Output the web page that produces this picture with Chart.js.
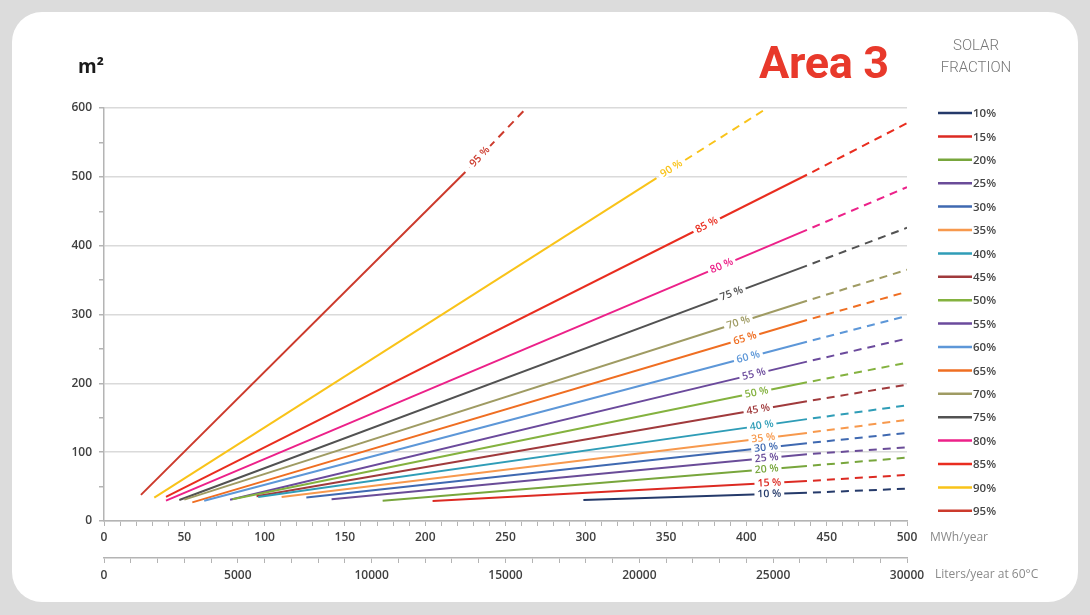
<!DOCTYPE html>
<html lang="en">
<head>
  <meta charset="UTF-8" />
  <title>Area 3 - Solar fraction</title>
  <script src="https://cdn.jsdelivr.net/npm/chart.js"></script>
  <style>
    html, body { margin: 0; padding: 0; }
    body { width: 1090px; height: 615px; background: #dcdcdc; position: relative; overflow: hidden; font-family: 'Open Sans', sans-serif; }
    #card { position: absolute; left: 12px; top: 12px; width: 1066px; height: 590px; background: #fff; border-radius: 30px; }
    #chartBox { position: absolute; left: 0; top: 0; }
    #unit { position: absolute; left: 78px; top: 53px; font: bold 19px 'Open Sans', sans-serif; color: #1a1a1a; }
    #title { position: absolute; left: 759px; top: 36px; font: bold 45px Roboto, sans-serif; color: #e8392b; letter-spacing: -0.3px; }
    #solar { position: absolute; left: 925px; top: 34px; width: 102px; text-align: center; font: 300 15px Roboto, sans-serif; line-height: 22px; color: #777; }
  </style>
</head>
<body>
  <div id="card"></div>
  <canvas id="chartBox" width="1090" height="615"></canvas>
  <div id="unit">m²</div>
  <div id="title">Area 3</div>
  <div id="solar">SOLAR<br>FRACTION</div>

  <script>
    // Solar fraction curves: collector area (m2) vs. demand (MWh/year)
    const fractions = ['10%', '15%', '20%', '25%', '30%', '35%', '40%', '45%', '50%',
                       '55%', '60%', '65%', '70%', '75%', '80%', '85%', '90%', '95%'];
    const lineColors = ['#253a6a', '#dc2a22', '#78a63c', '#6a4c98', '#3f69b1', '#f7994d',
                        '#2f9db7', '#a03a3c', '#84b23f', '#6b4a9c', '#5d97d8', '#ef6e22',
                        '#9f9b63', '#525252', '#ec2189', '#e92d1f', '#f9c319', '#cc3a2c'];

    // start of each curve
    const startMWh = [298.5, 204.6, 173.5, 141.7, 126, 110.6, 96, 95, 80, 78.5, 62.4, 55, 50, 46.9, 38.6, 38.6, 31.3, 23];
    const startM2  = [30.5, 29, 29.5, 31.5, 34, 35, 35, 36, 31.5, 31, 29.5, 27, 31, 30.5, 29.5, 35, 34, 38];
    // end of the solid part
    const solidMWh = [437.7, 437.7, 437.7, 437.7, 437.7, 437.7, 437.7, 437.7, 437.7, 437.7, 437.7, 437.7, 437.7, 437.7, 437.7, 437.7, 344, 225];
    const solidM2  = [41, 58, 80, 97, 113, 128, 148, 174, 201.5, 231.5, 260.5, 292, 320, 371, 423, 503, 498, 507];
    // end of the dashed extrapolation
    const endMWh = [500, 500, 500, 500, 500, 500, 500, 500, 500, 500, 500, 500, 500, 500, 500, 500, 413, 263];
    const endM2  = [47, 67, 92, 107, 128, 147, 168, 198, 230, 265, 298, 333, 365, 426, 485, 578, 600, 600];
    // where the "xx %" tag sits on each curve
    const labelMWh = [414.3, 414.3, 412.6, 412.6, 412.2, 410.5, 409.5, 407.4, 406.4, 404.7, 401.2, 399.1, 395, 390.8, 384.6, 375.3, 353.4, 234];

    const mwhTicks = [0, 50, 100, 150, 200, 250, 300, 350, 400, 450, 500];
    const literTicks = [0, 5000, 10000, 15000, 20000, 25000, 30000];
    const m2Ticks = [0, 100, 200, 300, 400, 500, 600];

    const tickFont = { family: 'Open Sans', size: 12, weight: '600' };
    const axisGray = '#b4b4b4';

    const overlay = {
      id: 'overlay',
      afterDatasetsDraw(chart) {
        const { ctx } = chart;
        const x = chart.scales.x, y = chart.scales.y;
        chart.data.datasets.forEach((ds, i) => {
          const p = ds.data;
          const lx = labelMWh[i];
          const s = lx <= p[1].x ? 0 : 1;
          const a = p[s], b = p[s + 1];
          const ly = a.y + (b.y - a.y) * (lx - a.x) / (b.x - a.x);
          const ang = Math.atan2(y.getPixelForValue(b.y) - y.getPixelForValue(a.y),
                                 x.getPixelForValue(b.x) - x.getPixelForValue(a.x));
          const t = fractions[i].replace('%', ' %');
          ctx.save();
          ctx.translate(x.getPixelForValue(lx), y.getPixelForValue(ly));
          ctx.rotate(ang);
          ctx.font = '600 10.5px "Open Sans"';
          const w = ctx.measureText(t).width;
          ctx.fillStyle = '#fff';
          ctx.fillRect(-w / 2 - 3, -5, w + 6, 10);
          ctx.fillStyle = ds.borderColor;
          ctx.textAlign = 'center';
          ctx.textBaseline = 'middle';
          ctx.fillText(t, 0, 0);
          ctx.restore();
        });
      },
      afterDraw(chart) {
        const { ctx } = chart;
        // legend
        ctx.save();
        fractions.forEach((f, i) => {
          const ly = 113 + i * 23.4;
          ctx.strokeStyle = lineColors[i];
          ctx.lineWidth = 2.5;
          ctx.beginPath();
          ctx.moveTo(938, ly);
          ctx.lineTo(972, ly);
          ctx.stroke();
          ctx.fillStyle = '#454545';
          ctx.font = '600 11.5px "Open Sans"';
          ctx.textBaseline = 'middle';
          ctx.fillText(f, 973, ly + 1);
        });
        // axis titles to the right of the axes
        ctx.fillStyle = '#8a8a8a';
        ctx.font = '12px "Open Sans"';
        ctx.textBaseline = 'middle';
        ctx.fillText('MWh/year', 930, chart.scales.x.top + 17);
        ctx.fillText('Liters/year at 60°C', 935, chart.scales.x2.top + 17);
        ctx.restore();
      }
    };

    const ctx = document.getElementById('chartBox').getContext('2d');

    new Chart(ctx, {
      type: 'line',
      data: {
        datasets: fractions.map((f, i) => ({
          label: f,
          data: [
            { x: startMWh[i], y: startM2[i] },
            { x: solidMWh[i], y: solidM2[i] },
            { x: endMWh[i], y: endM2[i] }
          ],
          borderColor: lineColors[i],
          borderWidth: 2,
          pointRadius: 0,
          fill: false,
          tension: 0,
          segment: {
            borderDash: c => c.p0DataIndex >= 1 ? [8, 6] : undefined,
            borderDashOffset: c => c.p0DataIndex >= 1 ? 8 : undefined
          }
        }))
      },
      options: {
        responsive: false,
        animation: false,
        layout: { padding: { left: 0, right: 183, top: 108, bottom: 27 } },
        plugins: { legend: { display: false }, tooltip: { enabled: false } },
        scales: {
          x: {
            type: 'linear', position: 'bottom', weight: 0, min: 0, max: 500,
            ticks: {
              stepSize: 10, autoSkip: false, maxRotation: 0, padding: 4,
              color: '#404040', font: tickFont,
              callback: v => mwhTicks.includes(v) ? v : ''
            },
            grid: { drawOnChartArea: false, tickLength: 5, color: axisGray },
            border: { color: axisGray, width: 1.5 },
            afterFit: s => { s.height = 37; }
          },
          x2: {
            type: 'linear', position: 'bottom', weight: 1, min: 0, max: 30000,
            ticks: {
              stepSize: 1000, autoSkip: false, maxRotation: 0, padding: 5,
              color: '#404040', font: tickFont,
              callback: v => literTicks.includes(v) ? v : ''
            },
            grid: { drawOnChartArea: false, tickLength: 5, color: axisGray },
            border: { color: axisGray, width: 1.5 },
            afterFit: s => { s.height = 30; }
          },
          y: {
            min: 0, max: 600,
            ticks: {
              stepSize: 50, padding: 7, color: '#404040', font: tickFont,
              callback: v => m2Ticks.includes(v) ? v : ''
            },
            grid: {
              color: c => (c.tick && c.tick.value % 100 === 0) ? '#dadada' : 'rgba(0,0,0,0)',
              tickColor: axisGray, tickLength: 5, lineWidth: 1.5
            },
            border: { color: axisGray, width: 1.5 },
            afterFit: s => { s.width = 104; }
          }
        }
      },
      plugins: [overlay]
    });
  </script>
</body>
</html>
